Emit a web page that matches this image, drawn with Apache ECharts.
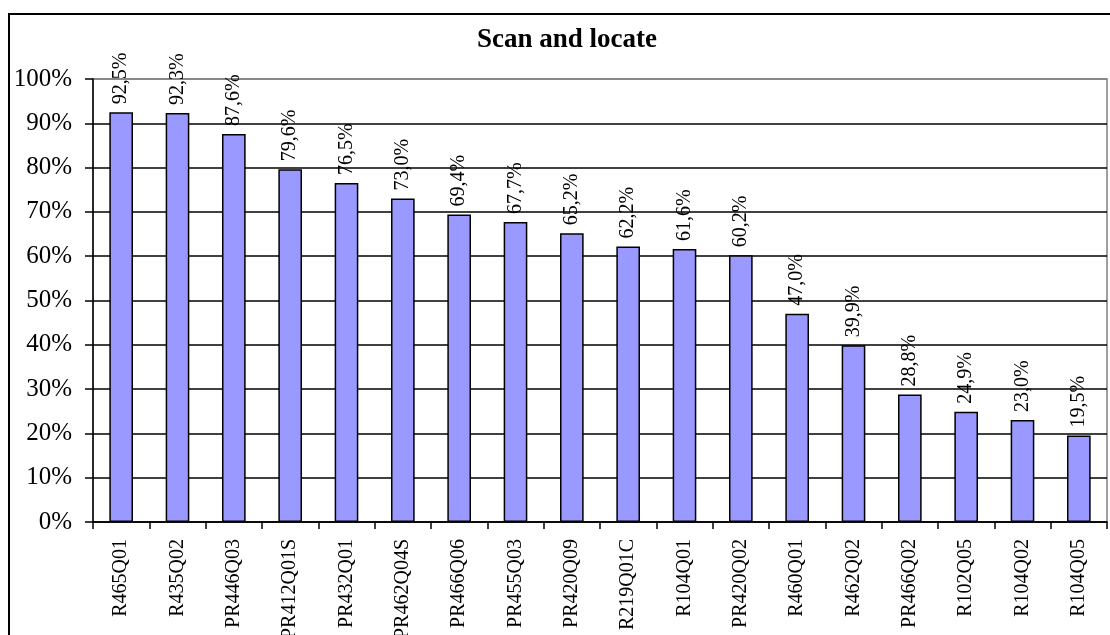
<!DOCTYPE html>
<html>
<head>
<meta charset="utf-8">
<script src="https://cdn.jsdelivr.net/npm/echarts@6/dist/echarts.min.js"></script>
<style>
  html, body { margin: 0; padding: 0; background: #fff; }
  #chart { width: 1110px; height: 635px; }
</style>
</head>
<body>
<div id="chart"></div>
<script>
// Item codes along the x axis
const categories = [
  'R465Q01', 'R435Q02', 'PR446Q03', 'PR412Q01S', 'PR432Q01', 'PR462Q04S',
  'PR466Q06', 'PR455Q03', 'PR420Q09', 'R219Q01C', 'R104Q01', 'PR420Q02',
  'R460Q01', 'R462Q02', 'PR466Q02', 'R102Q05', 'R104Q02', 'R104Q05'
];

// Percentage of correct answers per item
const values = [
  92.5, 92.3, 87.6, 79.6, 76.5, 73.0,
  69.4, 67.7, 65.2, 62.2, 61.6, 60.2,
  47.0, 39.9, 28.8, 24.9, 23.0, 19.5
];

// Y axis range and step (percent)
const yMin = 0;
const yMax = 100;
const yStep = 10;

const FONT = '"Liberation Serif", "Times New Roman", serif';

const chart = echarts.init(document.getElementById('chart'), null, { renderer: 'canvas' });

// Grid lines are black except the top one, which is grey like the plot frame
const splitColors = [];
for (let v = yMin; v <= yMax; v += yStep) {
  splitColors.push(v === yMax ? '#808080' : '#000000');
}

chart.setOption({
  animation: false,
  backgroundColor: '#ffffff',
  title: {
    text: 'Scan and locate',
    left: 472,
    top: 22,
    textStyle: {
      fontFamily: FONT,
      fontWeight: 'bold',
      fontSize: 27,
      color: '#000'
    }
  },
  graphic: [
    {
      type: 'rect',
      shape: { x: 9, y: 14, width: 1200, height: 700 },
      style: { fill: 'none', stroke: '#000', lineWidth: 2 },
      silent: true,
      z: 100
    }
  ],
  grid: {
    left: 93,
    top: 79,
    right: 3,
    bottom: 113,
    containLabel: false,
    outerBoundsMode: 'none',
    show: true,
    borderColor: '#808080',
    borderWidth: 1.5,
    backgroundColor: 'transparent'
  },
  xAxis: {
    type: 'category',
    data: categories,
    boundaryGap: true,
    axisLine: { show: true, lineStyle: { color: '#000', width: 1.5 } },
    axisTick: { show: true, length: 7, lineStyle: { color: '#000', width: 1.5 } },
    axisLabel: {
      rotate: 90,
      interval: 0,
      margin: 17,
      fontFamily: FONT,
      fontSize: 20,
      color: '#000'
    },
    splitLine: { show: false }
  },
  yAxis: {
    type: 'value',
    min: yMin,
    max: yMax,
    interval: yStep,
    axisLine: { show: true, lineStyle: { color: '#000', width: 1.5 } },
    axisTick: { show: true, length: 8, lineStyle: { color: '#000', width: 1.5 } },
    axisLabel: {
      margin: 21,
      fontFamily: FONT,
      fontSize: 25,
      color: '#000',
      formatter: v => v + '%'
    },
    splitLine: { show: true, lineStyle: { color: splitColors, width: 1.5 } }
  },
  series: [
    {
      type: 'bar',
      data: values,
      barWidth: '42%',
      itemStyle: {
        color: '#9999FF',
        borderColor: '#000',
        borderWidth: 1.5
      },
      label: {
        show: true,
        position: 'top',
        rotate: 90,
        align: 'left',
        verticalAlign: 'middle',
        distance: 8,
        fontFamily: FONT,
        fontSize: 20,
        color: '#000',
        formatter: p => p.value.toFixed(1).replace('.', ',') + '%'
      }
    }
  ]
});
</script>
</body>
</html>
